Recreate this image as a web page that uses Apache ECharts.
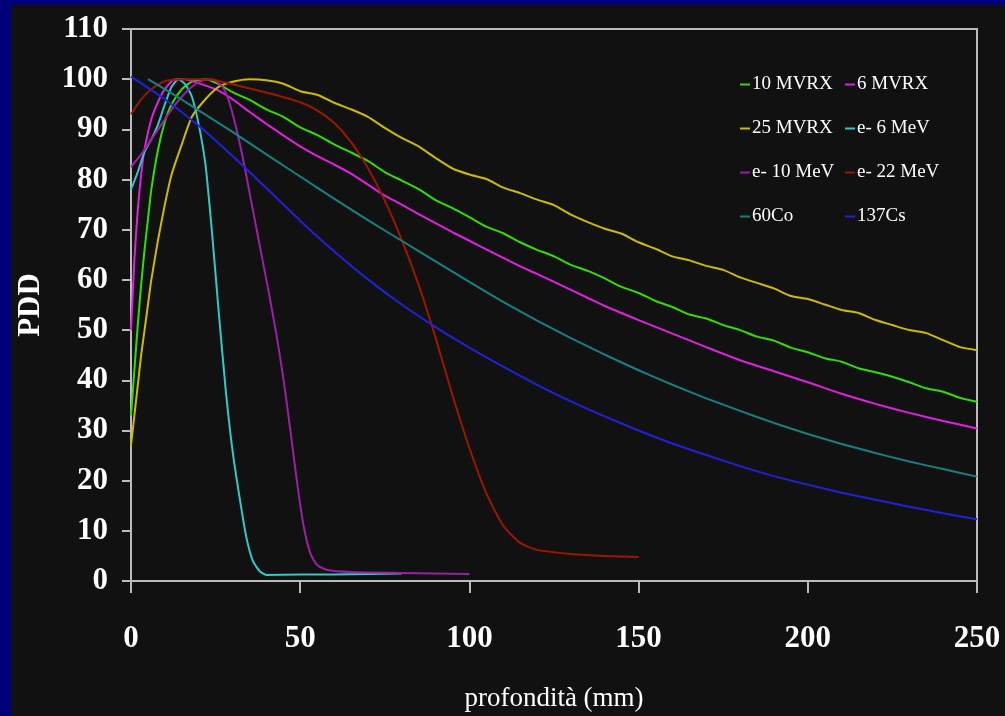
<!DOCTYPE html>
<html>
<head>
<meta charset="utf-8">
<script src="https://cdn.jsdelivr.net/npm/echarts@6/dist/echarts.min.js"></script>
<style>
    html, body { margin: 0; padding: 0; background: #00007a; }
    #chart { width: 1005px; height: 716px; }
</style>
</head>
<body>
<div id="chart"></div>
<script>

// Axis ticks
var xTicks = [0, 50, 100, 150, 200, 250];
var yTicks = [0, 10, 20, 30, 40, 50, 60, 70, 80, 90, 100, 110];

// 10 MVRX
var mv10Depth = [0, 1, 2, 3, 4, 5, 6, 8, 10, 12, 15, 18, 22, 26, 30, 35, 40, 45, 50, 55, 60, 65, 70, 75, 80, 85, 90, 95, 100, 105, 110, 115, 120, 125, 130, 135, 140, 145, 150, 155, 160, 165, 170, 175, 180, 185, 190, 195, 200, 205, 210, 215, 220, 225, 230, 235, 240, 245, 250];
var mv10Dose = [33, 42, 51, 59, 66, 72, 78, 86, 91.5, 95, 98, 99.5, 100, 99, 97.4, 95.9, 94.0, 92.5, 90.4, 88.9, 87.0, 85.4, 83.7, 81.5, 79.8, 78.1, 75.9, 74.3, 72.5, 70.6, 69.3, 67.5, 66.0, 64.7, 63.0, 61.8, 60.3, 58.6, 57.4, 55.8, 54.6, 53.1, 52.3, 51.0, 50.0, 48.7, 47.9, 46.5, 45.6, 44.4, 43.7, 42.4, 41.6, 40.7, 39.6, 38.4, 37.7, 36.5, 35.7];

// 6 MVRX
var mv6Depth = [0, 1, 2, 3, 4, 6, 8, 10, 13, 16, 20, 25, 30, 35, 40, 45, 50, 55, 60, 65, 70, 75, 80, 85, 90, 95, 100, 105, 110, 115, 120, 125, 130, 135, 140, 150, 160, 170, 180, 190, 200, 210, 220, 230, 240, 250];
var mv6Dose = [50, 64, 74, 81, 86, 92, 95.5, 98, 100, 100, 99.2, 98.0, 96.0, 93.5, 91.1, 88.8, 86.6, 84.7, 83.0, 81.2, 79.0, 76.8, 75.0, 73.1, 71.3, 69.5, 67.8, 66.1, 64.4, 62.7, 61.2, 59.6, 58.0, 56.4, 54.8, 52.0, 49.3, 46.6, 44.0, 41.8, 39.6, 37.3, 35.3, 33.5, 31.9, 30.4];

// 25 MVRX
var mv25Depth = [0, 1, 2, 3, 4, 5, 6, 8, 10, 12, 15, 18, 22, 26, 30, 35, 40, 45, 50, 55, 60, 65, 70, 75, 80, 85, 90, 95, 100, 105, 110, 115, 120, 125, 130, 135, 140, 145, 150, 155, 160, 165, 170, 175, 180, 185, 190, 195, 200, 205, 210, 215, 220, 225, 230, 235, 240, 245, 250];
var mv25Dose = [27, 33, 39, 45, 50, 55, 60, 68, 75, 81, 87, 92.5, 96, 98.5, 99.5, 100, 99.8, 99.1, 97.6, 96.9, 95.3, 94.0, 92.5, 90.3, 88.3, 86.6, 84.3, 82.2, 81.0, 80.1, 78.4, 77.3, 76.0, 74.9, 73.0, 71.5, 70.2, 69.2, 67.5, 66.2, 64.7, 63.9, 62.8, 62.0, 60.5, 59.4, 58.3, 56.8, 56.2, 55.1, 54.0, 53.4, 52.0, 51.0, 50.0, 49.4, 48.0, 46.6, 46.0];

// e- 6 MeV
var e6Depth = [0, 2, 4, 6, 8, 10, 12, 14, 16, 18, 20, 22, 24, 26, 28, 30, 32, 34, 36, 38, 40, 50, 60, 70, 80];
var e6Dose = [78, 81.5, 85.5, 88, 91, 95, 98.5, 100, 99, 96.5, 91, 83, 69, 53, 38, 26, 17, 9, 4, 2, 1.2, 1.3, 1.3, 1.4, 1.5];

// e- 10 MeV
var e10Depth = [0, 3, 6, 9, 12, 15, 18, 21, 24, 27, 29, 31, 33, 35, 37, 39, 41, 43, 45, 47, 49, 51, 53, 55, 58, 65, 80, 100];
var e10Dose = [82.5, 85, 88, 91, 94, 96.5, 98.5, 99.7, 100, 98.5, 95.5, 90.5, 84.5, 77.5, 70.5, 63.5, 56.5, 49, 40.5, 30.5, 20, 11, 5.5, 3.2, 2.2, 1.8, 1.6, 1.4];

// e- 22 MeV
var e22Depth = [0, 3, 6, 10, 15, 20, 25, 30, 36, 42, 50, 55, 60, 65, 70, 75, 80, 85, 90, 95, 100, 105, 110, 115, 120, 130, 140, 150];
var e22Dose = [93, 96, 98, 99.6, 100, 100, 99.8, 99, 98, 97, 95.4, 93.8, 91.3, 87.5, 82.3, 75.8, 68, 59, 48.5, 37, 26.5, 17.5, 11, 7.6, 6.2, 5.4, 5, 4.8];

// 60Co
var co60Depth = [5, 10, 20, 30, 40, 50, 60, 70, 80, 90, 100, 110, 120, 130, 140, 150, 160, 170, 180, 190, 200, 210, 220, 230, 240, 250];
var co60Dose = [100, 98, 93.8, 89.5, 85, 80.6, 76.2, 71.9, 67.8, 63.7, 59.6, 55.6, 51.9, 48.4, 45.1, 42, 39.1, 36.4, 33.9, 31.5, 29.3, 27.3, 25.5, 23.8, 22.3, 20.8];

// 137Cs
var cs137Depth = [0, 10, 20, 30, 40, 50, 60, 70, 80, 90, 100, 110, 120, 130, 140, 150, 160, 170, 180, 190, 200, 210, 220, 230, 240, 250];
var cs137Dose = [100.5, 96, 90.7, 84.7, 78.3, 71.8, 65.7, 60.1, 55.1, 50.6, 46.5, 42.7, 39.1, 35.8, 32.8, 30, 27.4, 25.1, 22.9, 20.9, 19.2, 17.6, 16.2, 14.8, 13.5, 12.3];

var seriesDefs = [
    { name: '10 MVRX', color: '#33dd00', depth: mv10Depth, dose: mv10Dose },
    { name: '6 MVRX', color: '#e020e0', depth: mv6Depth, dose: mv6Dose },
    { name: '25 MVRX', color: '#ccbb00', depth: mv25Depth, dose: mv25Dose },
    { name: 'e- 6 MeV', color: '#30c8c8', depth: e6Depth, dose: e6Dose },
    { name: 'e- 10 MeV', color: '#9b1fa8', depth: e10Depth, dose: e10Dose },
    { name: 'e- 22 MeV', color: '#9a1800', depth: e22Depth, dose: e22Dose },
    { name: '60Co', color: '#178080', depth: co60Depth, dose: co60Dose },
    { name: '137Cs', color: '#2020dd', depth: cs137Depth, dose: cs137Dose }
];

function pairs(xs, ys) {
    return xs.map(function (x, i) { return [x, ys[i]]; });
}

var serif = '"Liberation Serif", "Times New Roman", serif';

var legendBase = {
    orient: 'vertical',
    top: 70,
    itemWidth: 10,
    itemHeight: 2,
    itemGap: 25,
    icon: 'rect',
    textStyle: {
        color: '#fff',
        fontFamily: serif,
        fontSize: 19,
        padding: [0, 0, 0, -3]
    }
};

var chart = echarts.init(document.getElementById('chart'));

chart.setOption({

    backgroundColor: '#00007a',
    animation: false,

    // Black panel
    graphic: [{
        type: 'rect',
        shape: { x: 11, y: 5, width: 994, height: 711 },
        style: { fill: '#111111' },
        z: -10
    }],

    grid: {
        left: 131,
        top: 29,
        width: 846,
        height: 552,
        outerBoundsMode: 'none',
        show: true,
        borderColor: '#bbbbbb',
        borderWidth: 2,
        backgroundColor: 'transparent'
    },

    // Two legend columns
    legend: [
        Object.assign({}, legendBase, {
            left: 735,
            data: ['10 MVRX', '25 MVRX', 'e- 10 MeV', '60Co']
        }),
        Object.assign({}, legendBase, {
            left: 840,
            data: ['6 MVRX', 'e- 6 MeV', 'e- 22 MeV', '137Cs']
        })
    ],

    xAxis: {
        type: 'value',
        min: xTicks[0],
        max: xTicks[xTicks.length - 1],
        interval: 50,
        name: 'profondità (mm)',
        nameLocation: 'middle',
        nameGap: 104,
        nameTextStyle: {
            color: '#fff',
            fontFamily: serif,
            fontSize: 27
        },
        axisLine: { lineStyle: { color: '#bbbbbb', width: 2 } },
        axisTick: { length: 12, lineStyle: { color: '#bbbbbb', width: 2 } },
        axisLabel: {
            color: '#fff',
            fontFamily: serif,
            fontWeight: 'bold',
            fontSize: 31,
            margin: 42
        },
        splitLine: { show: false }
    },

    yAxis: {
        type: 'value',
        min: yTicks[0],
        max: yTicks[yTicks.length - 1],
        interval: 10,
        name: 'PDD',
        nameLocation: 'middle',
        nameRotate: 90,
        nameGap: 85,
        nameTextStyle: {
            color: '#fff',
            fontFamily: serif,
            fontWeight: 'bold',
            fontSize: 31
        },
        axisLine: { lineStyle: { color: '#bbbbbb', width: 2 } },
        axisTick: { length: 9, lineStyle: { color: '#bbbbbb', width: 2 } },
        axisLabel: {
            color: '#fff',
            fontFamily: serif,
            fontWeight: 'bold',
            fontSize: 31,
            margin: 23,
            padding: [5, 0, 0, 0]
        },
        splitLine: { show: false }
    },

    series: seriesDefs.map(function (s) {
        return {
            name: s.name,
            type: 'line',
            showSymbol: false,
            smooth: 0.2,
            color: s.color,
            lineStyle: { color: s.color, width: 2 },
            data: pairs(s.depth, s.dose)
        };
    })
});

</script>
</body>
</html>
